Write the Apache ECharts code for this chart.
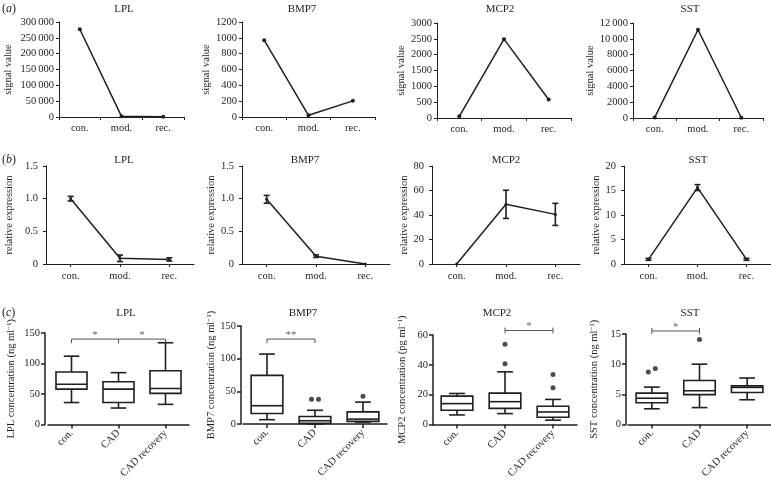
<!DOCTYPE html>
<html><head><meta charset="utf-8">
<script src="https://cdn.jsdelivr.net/npm/echarts@6/dist/echarts.min.js"></script>
<style>html,body{margin:0;padding:0;background:#fff}#c{width:771px;height:481px}</style>
</head><body><div id="c"></div>
<script>
// ---------- data ----------
const genes = ['LPL', 'BMP7', 'MCP2', 'SST'];
const catAB = ['con.', 'mod.', 'rec.'];
const catC = ['con.', 'CAD', 'CAD recovery'];

// (a) signal values
const signalLPL = [277000, 2000, 800];
const signalBMP7 = [970, 21, 204];
const signalMCP2 = [53, 2490, 583];
const signalSST = [50, 11150, 30];

// (b) relative expression (mean, error)
const exprLPL = [1.0, 0.087, 0.07];
const errLPL = [0.035, 0.05, 0.025];
const exprBMP7 = [0.99, 0.12, 0.0];
const errBMP7 = [0.06, 0.02, 0.0];
const exprMCP2 = [0, 48.7, 40.5];
const errMCP2 = [0, 11.5, 9];
const exprSST = [0.95, 15.6, 0.95];
const errSST = [0.2, 0.6, 0.2];

// (c) concentration boxes: [min, Q1, median, Q3, max]
const boxLPL = [[36, 58, 66, 86, 112], [27, 36, 58, 70, 85], [33, 51, 59, 88, 134]];
const boxBMP7 = [[6.6, 16, 28, 74.5, 107], [0, 1, 5, 11.5, 21], [3, 4, 7.5, 18.5, 33.5]];
const boxMCP2 = [[6.4, 9.5, 14, 19, 20.8], [7.3, 10.8, 15.3, 21, 35.3], [2.9, 4.9, 8.4, 12.2, 16.8]];
const boxSST = [[2.6, 3.6, 4.35, 5.2, 6.2], [2.8, 4.95, 5.6, 7.3, 10], [4.1, 5.3, 6.15, 6.4, 7.7]];
// outliers: [category index, value]
const outLPL = [];
const outBMP7 = [[1, 38], [1, 38], [2, 42.6]];
const outMCP2 = [[1, 53.8], [1, 40.7], [2, 33.6], [2, 24.6]];
const outSST = [[0, 8.7], [0, 9.3], [1, 14.1]];
// significance brackets: [from, to, y value, label]
const sigLPL = [[0, 1, 140, '*'], [1, 2, 140, '*']];
const sigBMP7 = [[0, 1, 130, '**']];
const sigMCP2 = [[1, 2, 63, '*']];
const sigSST = [[0, 1, 15.5, '*']];

// axis ticks
const maxA = [300000, 1200, 3000, 12000], stepA = [50000, 200, 500, 2000];
const maxB = [1.5, 1.5, 80, 20], stepB = [0.5, 0.5, 20, 5];
const maxC = [150, 150, 60, 15], stepC = [50, 50, 20, 5];
const unitsC = ['ng', 'ng', 'pg', 'ng'];

// ---------- layout / style ----------
const INK = '#1f1f1f';
const FONT = '"Liberation Serif", "DejaVu Serif", serif';
const gridsA = [[59, 22, 125, 95], [242, 22, 133, 95], [437, 23, 134, 95], [633, 23, 130, 95]];
const gridsB = [[46, 166, 148, 98], [242, 166, 148, 98], [432, 166, 148, 98], [624, 166, 148, 98]];
const gridsC = [[48, 333, 141, 93], [243, 326, 144, 98], [433, 335, 144, 90], [628, 334, 143, 91]];
const yOffC = [3, 2, 0, 2];
const gapA = [45, 25, 25, 23], gapB = [31, 21, 22, 21], gapC = [28, 22, 25, 26];
const titleX = [[124, 302, 500, 690], [124, 305, 506, 698], [126, 303, 497, 690]];
const titleY = [9, 160, 313];
const bracketTicks = ['down', 'down', 'both', 'both'];

const signals = [signalLPL, signalBMP7, signalMCP2, signalSST];
const exprs = [exprLPL, exprBMP7, exprMCP2, exprSST];
const errs = [errLPL, errBMP7, errMCP2, errSST];
const boxes = [boxLPL, boxBMP7, boxMCP2, boxSST];
const outs = [outLPL, outBMP7, outMCP2, outSST];
const sigs = [sigLPL, sigBMP7, sigMCP2, sigSST];

function fmtA(v) {
  if (v >= 10000) {
    const s = String(v);
    return s.slice(0, s.length - 3) + '\u2009' + s.slice(s.length - 3);
  }
  return String(v);
}
function fmtB1(v) { return v === 0 ? '0' : v.toFixed(1); }

const grid = [], xAxis = [], yAxis = [], series = [], graphic = [];
const lbl = { fontFamily: FONT, fontSize: 10.5, color: INK };

function addAxes(rect, cats, opts) {
  const k = grid.length;
  grid.push({ left: rect[0], top: rect[1], width: rect[2], height: rect[3], containLabel: false });
  xAxis.push({
    type: 'category', gridIndex: k, data: cats,
    axisLine: { lineStyle: { color: INK, width: opts.lw } },
    axisTick: { show: true, alignWithLabel: opts.align, length: opts.tick, lineStyle: { color: INK, width: opts.lw } },
    axisLabel: Object.assign({ interval: 0, margin: opts.xMargin, rotate: opts.rotate || 0 }, lbl),
    splitLine: { show: false }
  });
  yAxis.push({
    type: 'value', gridIndex: k, min: 0, max: opts.max, interval: opts.step, offset: opts.yOff || 0,
    name: opts.name, nameLocation: 'middle', nameGap: opts.gap, nameRotate: 90,
    nameTextStyle: Object.assign({ rich: opts.rich || {} }, lbl, { fontSize: 10.5 }),
    axisLine: { show: true, lineStyle: { color: INK, width: opts.lw } },
    axisTick: { show: true, length: opts.tick, lineStyle: { color: INK, width: opts.lw } },
    axisLabel: Object.assign({ margin: opts.yMargin, formatter: opts.fmt }, lbl),
    splitLine: { show: false }
  });
  return k;
}

// row (a)
genes.forEach((g, i) => {
  const k = addAxes(gridsA[i], catAB, {
    lw: 1, align: false, tick: 3, xMargin: 6, max: maxA[i], step: stepA[i],
    name: 'signal value', gap: gapA[i], yMargin: 5, fmt: fmtA
  });
  series.push({
    type: 'line', xAxisIndex: k, yAxisIndex: k, data: signals[i], symbol: 'circle', symbolSize: 4,
    lineStyle: { color: INK, width: 1.5 }, itemStyle: { color: INK }, silent: true, animation: false
  });
});

// row (b)
genes.forEach((g, i) => {
  const k = addAxes(gridsB[i], catAB, {
    lw: 1, align: true, tick: 3, xMargin: 7, max: maxB[i], step: stepB[i],
    name: 'relative expression', gap: gapB[i], yMargin: 8, fmt: i < 2 ? fmtB1 : (v => String(v))
  });
  series.push({
    type: 'line', xAxisIndex: k, yAxisIndex: k, data: exprs[i], symbol: 'circle', symbolSize: 3,
    lineStyle: { color: INK, width: 1.5 }, itemStyle: { color: INK }, silent: true, animation: false
  });
  series.push({
    type: 'custom', xAxisIndex: k, yAxisIndex: k, silent: true, animation: false, z: 3,
    encode: { x: 0, y: 1 },
    data: exprs[i].map((m, j) => [j, m, errs[i][j]]),
    renderItem: function (params, api) {
      const x = api.value(0), m = api.value(1), e = api.value(2);
      if (!e) return null;
      const t = api.coord([x, m + e]), b = api.coord([x, Math.max(0, m - e)]);
      const hw = 3, st = { stroke: INK, lineWidth: 1.6 };
      return {
        type: 'group', children: [
          { type: 'line', shape: { x1: t[0], y1: t[1], x2: b[0], y2: b[1] }, style: st },
          { type: 'line', shape: { x1: t[0] - hw, y1: t[1], x2: t[0] + hw, y2: t[1] }, style: st },
          { type: 'line', shape: { x1: b[0] - hw, y1: b[1], x2: b[0] + hw, y2: b[1] }, style: st }
        ]
      };
    }
  });
});

// row (c)
genes.forEach((g, i) => {
  const k = addAxes(gridsC[i], catC, {
    lw: 1.5, align: true, tick: 4, xMargin: 7, rotate: 45, max: maxC[i], step: stepC[i], yOff: yOffC[i],
    name: g + ' concentration (' + unitsC[i] + ' ml{sup|\u22121})', gap: gapC[i], yMargin: 5,
    fmt: v => String(v),
    rich: { sup: { fontFamily: FONT, fontSize: 7, color: INK, verticalAlign: 'top', padding: [0, 0, 4, 0] } }
  });
  // boxes
  series.push({
    type: 'custom', xAxisIndex: k, yAxisIndex: k, silent: true, animation: false, z: 2,
    encode: { x: 0, y: [1, 2, 3, 4, 5] },
    data: boxes[i].map((b, j) => [j].concat(b)),
    renderItem: function (params, api) {
      const j = api.value(0);
      const lo = api.coord([j, api.value(1)]), q1 = api.coord([j, api.value(2)]);
      const md = api.coord([j, api.value(3)]), q3 = api.coord([j, api.value(4)]);
      const hi = api.coord([j, api.value(5)]);
      const bw = api.size([1, 0])[0] * 0.66, hb = bw / 2, hc = bw / 4, cx = md[0];
      const st = { stroke: INK, lineWidth: 1.6, fill: null };
      return {
        type: 'group', children: [
          { type: 'line', shape: { x1: cx, y1: q3[1], x2: cx, y2: hi[1] }, style: st },
          { type: 'line', shape: { x1: cx, y1: q1[1], x2: cx, y2: lo[1] }, style: st },
          { type: 'line', shape: { x1: cx - hc, y1: hi[1], x2: cx + hc, y2: hi[1] }, style: st },
          { type: 'line', shape: { x1: cx - hc, y1: lo[1], x2: cx + hc, y2: lo[1] }, style: st },
          { type: 'rect', shape: { x: cx - hb, y: q3[1], width: bw, height: q1[1] - q3[1] }, style: { stroke: INK, lineWidth: 1.6, fill: '#fff' } },
          { type: 'line', shape: { x1: cx - hb, y1: md[1], x2: cx + hb, y2: md[1] }, style: st }
        ]
      };
    }
  });
  // outliers (side-by-side spread when values coincide)
  const od = outs[i].map((p, j, arr) => {
    const near = arr.filter(q => q[0] === p[0] && Math.abs(q[1] - p[1]) < maxC[i] * 0.05);
    let dx = 0;
    if (near.length > 1) {
      const idx = near.indexOf(p);
      dx = (idx - (near.length - 1) / 2) * 7;
    }
    return { value: [p[0], p[1]], symbolOffset: [dx, 0] };
  });
  series.push({
    type: 'scatter', xAxisIndex: k, yAxisIndex: k, data: od, symbol: 'circle', symbolSize: 5,
    itemStyle: { color: INK }, silent: true, animation: false, z: 4
  });
  // significance brackets
  const mode = bracketTicks[i];
  series.push({
    type: 'custom', xAxisIndex: k, yAxisIndex: k, silent: true, animation: false, z: 4,
    encode: { x: 0, y: 2 },
    data: sigs[i].map(s => [s[0], s[1], s[2], s[3]]),
    renderItem: function (params, api) {
      const s = sigs[i][params.dataIndex];
      const a = api.coord([s[0], s[2]]), b = api.coord([s[1], s[2]]);
      const st = { stroke: '#555', lineWidth: 1 };
      const up = mode === 'both' ? 3 : 0, dn = mode === 'both' ? 3 : 4;
      return {
        type: 'group', children: [
          { type: 'line', shape: { x1: a[0], y1: a[1], x2: b[0], y2: b[1] }, style: st },
          { type: 'line', shape: { x1: a[0], y1: a[1] - up, x2: a[0], y2: a[1] + dn }, style: st },
          { type: 'line', shape: { x1: b[0], y1: b[1] - up, x2: b[0], y2: b[1] + dn }, style: st },
          { type: 'text', x: (a[0] + b[0]) / 2, y: a[1] - 4, style: { text: s[3], fill: '#666', font: '11px ' + FONT, textAlign: 'center', textVerticalAlign: 'middle', align: 'center', verticalAlign: 'middle' } }
        ]
      };
    }
  });
});

// titles and panel letters
[0, 1, 2].forEach(r => {
  genes.forEach((g, i) => {
    graphic.push({
      type: 'text', x: titleX[r][i], y: titleY[r], silent: true,
      style: { text: g, fill: INK, font: '11px ' + FONT, textAlign: 'center', textVerticalAlign: 'middle', align: 'center', verticalAlign: 'middle' }
    });
  });
  graphic.push({
    type: 'text', x: 2, y: titleY[r], silent: true,
    style: {
      text: '({i|' + ['a', 'b', 'c'][r] + '})', fill: INK, font: '12px ' + FONT, textAlign: 'left', textVerticalAlign: 'middle', align: 'left', verticalAlign: 'middle',
      rich: { i: { fontStyle: 'italic', fontFamily: FONT, fontSize: 12, fill: INK } }
    }
  });
});

const chart = echarts.init(document.getElementById('c'));
chart.setOption({ animation: false, backgroundColor: '#fff', grid, xAxis, yAxis, series, graphic });
</script></body></html>
